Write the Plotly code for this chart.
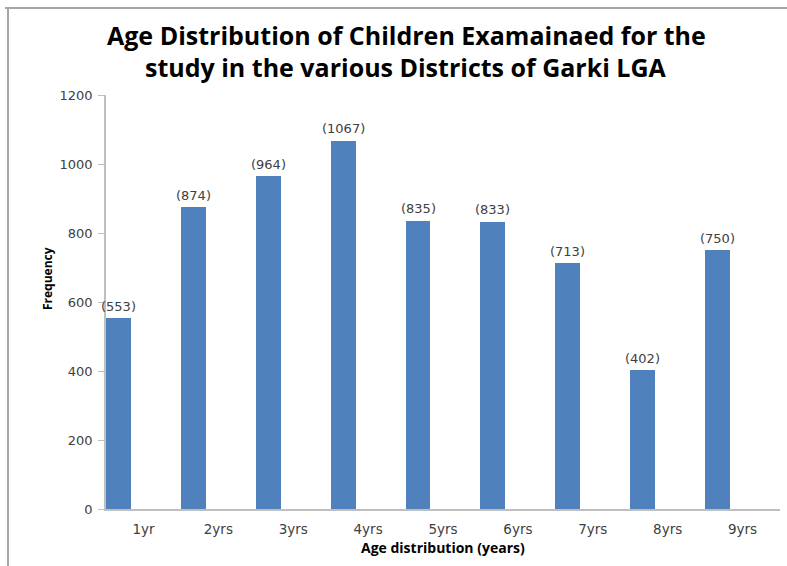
import plotly.graph_objects as go

categories = ["1yr", "2yrs", "3yrs", "4yrs", "5yrs", "6yrs", "7yrs", "8yrs", "9yrs"]
frequency = [553, 874, 964, 1067, 835, 833, 713, 402, 750]
labels = [f"({v})" for v in frequency]

W, H = 787, 566
L, R, T, B = 106, 7, 95, 57
pw, ph = W - L - R, H - T - B
BAR_W, BAR_OFF = 0.333, -0.5

def px_x(x):
    return (x - L) / pw

def px_y(y):
    return (H - B - y) / ph

fig = go.Figure()
fig.add_trace(go.Bar(
    x=categories, y=frequency,
    width=BAR_W, offset=BAR_OFF,
    marker=dict(color="#4F81BD", line=dict(width=0)),
))

# data labels above bars
for i, (v, lab) in enumerate(zip(frequency, labels)):
    fig.add_annotation(
        x=i + BAR_OFF + BAR_W / 2, y=v, xref="x", yref="y",
        text=lab, showarrow=False, yanchor="middle", yshift=12,
        font=dict(family="DejaVu Sans", size=13, color="#404040"),
    )

title_font = dict(family="Open Sans", size=25, color="black", weight="bold")
for txt, yy in [("Age Distribution of Children Examainaed for the", 35),
                ("study in the various Districts of Garki LGA", 67)]:
    fig.add_annotation(x=px_x(406), y=px_y(yy), xref="paper", yref="paper",
                       text=txt, showarrow=False, xanchor="center", yanchor="middle",
                       font=title_font)

fig.add_annotation(x=px_x(47), y=px_y(279), xref="paper", yref="paper",
                   text="Frequency", showarrow=False, textangle=-90,
                   xanchor="center", yanchor="middle",
                   font=dict(family="Open Sans", size=12, color="black", weight="bold"))
fig.add_annotation(x=px_x(443), y=px_y(547), xref="paper", yref="paper",
                   text="Age distribution (years)", showarrow=False,
                   xanchor="center", yanchor="middle",
                   font=dict(family="Open Sans", size=14, color="black", weight="bold"))

fig.update_layout(
    width=W, height=H,
    margin=dict(l=L, r=R, t=T, b=B),
    paper_bgcolor="white", plot_bgcolor="white",
    showlegend=False,
    xaxis=dict(
        showline=True, linecolor="#BFBFBF", linewidth=1.5,
        ticks="", showgrid=False, range=[-0.5, 8.5],
        ticklabelstandoff=7,
        tickfont=dict(family="DejaVu Sans", size=13.5, color="#404040"),
    ),
    yaxis=dict(
        range=[0, 1200], dtick=200,
        showline=True, linecolor="#BFBFBF", linewidth=1.5,
        ticks="outside", ticklen=6, tickcolor="#BFBFBF",
        ticklabelstandoff=3,
        showgrid=False, zeroline=False,
        tickfont=dict(family="DejaVu Sans", size=13, color="#404040"),
    ),
    bargap=0,
)

# outer frame (top and left edges)
fig.add_shape(type="line", xref="paper", yref="paper",
              x0=px_x(5), x1=px_x(W + 2), y0=px_y(8), y1=px_y(8),
              line=dict(color="#A6A6A6", width=2))
fig.add_shape(type="line", xref="paper", yref="paper",
              x0=px_x(8), x1=px_x(8), y0=px_y(8), y1=px_y(H + 2),
              line=dict(color="#A6A6A6", width=2))

fig.write_html("out.html", config={"displayModeBar": False})
